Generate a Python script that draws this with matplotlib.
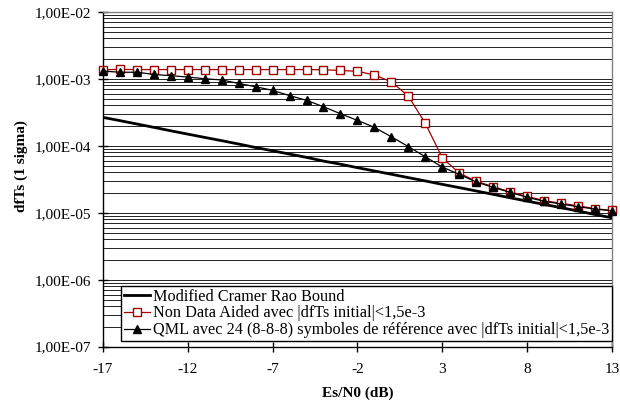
import matplotlib
matplotlib.use("Agg")
import matplotlib.pyplot as plt
from matplotlib.ticker import FixedLocator, LogLocator, NullFormatter

plt.rcParams['font.family'] = ['Liberation Serif', 'DejaVu Serif']

# ---- data ----
snr_db = list(range(-17, 14))

mcrb = [2.65e-4, 2.37e-4, 2.11e-4, 1.88e-4, 1.67e-4, 1.49e-4, 1.33e-4, 1.19e-4,
        1.06e-4, 9.4e-5, 8.4e-5, 7.5e-5, 6.7e-5, 5.9e-5, 5.3e-5, 4.7e-5,
        4.2e-5, 3.75e-5, 3.34e-5, 2.98e-5, 2.65e-5, 2.37e-5, 2.11e-5, 1.88e-5,
        1.67e-5, 1.49e-5, 1.33e-5, 1.19e-5, 1.06e-5, 9.4e-6, 8.4e-6]

nda = [1.36e-3, 1.38e-3, 1.37e-3, 1.37e-3, 1.37e-3, 1.37e-3, 1.37e-3, 1.37e-3,
       1.37e-3, 1.37e-3, 1.37e-3, 1.37e-3, 1.37e-3, 1.36e-3, 1.33e-3, 1.29e-3,
       1.14e-3, 9.0e-4, 5.5e-4, 2.16e-4, 6.6e-5, 3.9e-5, 2.95e-5, 2.45e-5,
       2.05e-5, 1.75e-5, 1.52e-5, 1.38e-5, 1.27e-5, 1.15e-5, 1.08e-5]

qml = [1.30e-3, 1.25e-3, 1.25e-3, 1.16e-3, 1.11e-3, 1.06e-3, 1.0e-3, 9.6e-4,
       8.5e-4, 7.6e-4, 6.7e-4, 5.6e-4, 4.76e-4, 3.82e-4, 3.0e-4, 2.39e-4,
       1.88e-4, 1.36e-4, 9.7e-5, 6.85e-5, 4.8e-5, 3.74e-5, 2.87e-5, 2.39e-5,
       2.01e-5, 1.70e-5, 1.48e-5, 1.35e-5, 1.23e-5, 1.13e-5, 1.07e-5]

labels = ["Modified Cramer Rao Bound",
          "Non Data Aided avec |dfTs initial|<1,5e-3",
          "QML avec 24 (8-8-8) symboles de référence avec |dfTs initial|<1,5e-3"]

xticks = [-17, -12, -7, -2, 3, 8, 13]
yticks = [1e-7, 1e-6, 1e-5, 1e-4, 1e-3, 1e-2]
yticklabels = ["1,00E-07", "1,00E-06", "1,00E-05", "1,00E-04", "1,00E-03", "1,00E-02"]

# ---- figure ----
fig = plt.figure(figsize=(6.2, 4.05), dpi=100)
ax = fig.add_axes([0.166, 0.144, 0.821, 0.827])

ax.plot(snr_db, mcrb, color='black', lw=2.0, label=labels[0], zorder=3)
ax.plot(snr_db, nda, color='#A00000', lw=0.9, marker='s', ms=5.5,
        mfc='white', mec='#A00000', mew=1.0, label=labels[1], zorder=4,
        clip_on=False)
ax.plot(snr_db, qml, color='black', lw=0.9, marker='^', ms=6,
        mfc='black', mec='black', label=labels[2], zorder=5, clip_on=False)

ax.set_yscale('log')
ax.set_xlim(-17, 13)
ax.set_ylim(1e-7, 1e-2)

ax.xaxis.set_major_locator(FixedLocator(xticks))
ax.set_xticklabels([str(v) for v in xticks])
ax.yaxis.set_major_locator(FixedLocator(yticks))
ax.set_yticklabels(yticklabels)
ax.yaxis.set_minor_locator(LogLocator(base=10, subs=range(2, 10), numticks=20))
ax.yaxis.set_minor_formatter(NullFormatter())

ax.tick_params(axis='both', which='major', direction='inout', length=7,
               width=1, labelsize=11, color='black')
ax.tick_params(axis='x', which='major', pad=8)
ax.tick_params(axis='y', which='major', pad=5)
ax.tick_params(axis='y', which='minor', length=0)

ax.grid(True, axis='y', which='both', color='#222222', lw=0.7, zorder=0)
ax.set_axisbelow(True)

for s in ['top', 'right']:
    ax.spines[s].set_color('#808080')
    ax.spines[s].set_linewidth(1)
for s in ['left', 'bottom']:
    ax.spines[s].set_color('black')
    ax.spines[s].set_linewidth(1)

ax.set_xlabel("Es/N0 (dB)", fontsize=11, fontweight='bold', labelpad=8)
ax.set_ylabel("dfTs (1 sigma)", fontsize=11, fontweight='bold')
ax.yaxis.set_label_coords(-0.148, 0.54)

leg = ax.legend(loc='lower left', bbox_to_anchor=(0.036, 0.018), fontsize=11.7,
                frameon=True, fancybox=False, framealpha=1, edgecolor='black',
                handlelength=1.65, handletextpad=0.15, labelspacing=0.05,
                borderpad=0.15, borderaxespad=0, numpoints=1)
leg.get_frame().set_linewidth(1)
leg.set_zorder(10)

fig.savefig("out.png", dpi=100)
